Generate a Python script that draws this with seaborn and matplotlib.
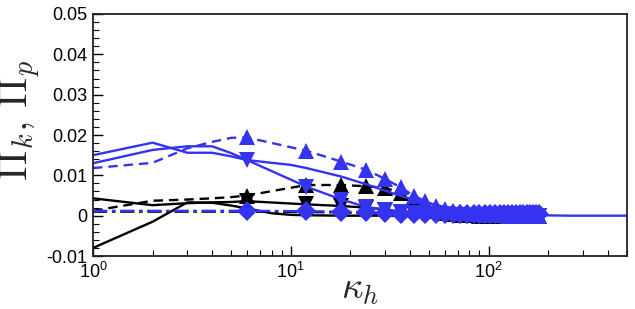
import math
import matplotlib
matplotlib.use("Agg")
import seaborn as sns
import matplotlib.pyplot as plt
from matplotlib.ticker import FixedLocator, FuncFormatter, LogLocator, MultipleLocator, NullFormatter

# --- DATA ---
# shared wavenumber grid for the series that carry markers (markers from k=6 on)
k_mark = [1, 2, 3, 4, 5,
          6, 12, 18, 24, 30, 36, 42, 48, 54, 60, 66, 72,
          78, 84, 90, 96, 102, 108, 114, 120, 126, 132, 138, 144, 150, 156, 162, 168, 174, 180]

blue_down = [0.0130, 0.0163, 0.0172, 0.0172, 0.0155,
             0.0138, 0.0072, 0.0040, 0.0022, 0.0015, 0.0010, 0.0007, 0.0005, 0.0003, 0.0002, 0.0001, 0.0001,
             0.0, 0.0, 0.0, 0.0, 0.0, 0.0, 0.0, 0.0, 0.0, 0.0, 0.0, 0.0, 0.0, 0.0, 0.0, 0.0, 0.0, 0.0]
blue_up = [0.0118, 0.0131, 0.0167, 0.0183, 0.0193,
           0.0194, 0.0161, 0.0134, 0.0114, 0.0091, 0.0070, 0.0049, 0.0036, 0.0025, 0.0016, 0.0011, 0.0008,
           0.0006, 0.0004, 0.0003, 0.0002, 0.0002, 0.0001, 0.0001, 0.0001, 0.0, 0.0, 0.0, 0.0, 0.0, 0.0, 0.0, 0.0, 0.0, 0.0]
black_up = [0.0012, 0.0037, 0.0040, 0.0043, 0.0046,
            0.0050, 0.0076, 0.0076, 0.0073, 0.0069, 0.0057, 0.0038, 0.0022, 0.0012, 0.0006, 0.0003, 0.0002,
            0.0001, 0.0001, 0.0, 0.0, 0.0, 0.0, 0.0, 0.0, 0.0, 0.0, 0.0, 0.0, 0.0, 0.0, 0.0, 0.0, 0.0, 0.0]
black_down = [0.0043, 0.0026, 0.0031, 0.0033, 0.0034,
              0.0036, 0.0028, 0.0024, 0.0020, 0.0015, 0.0010, 0.0006, 0.0004, 0.0002, 0.0001, 0.0001, 0.0,
              0.0, 0.0, 0.0, 0.0, 0.0, 0.0, 0.0, 0.0, 0.0, 0.0, 0.0, 0.0, 0.0, 0.0, 0.0, 0.0, 0.0, 0.0]
blue_diam = [0.0012, 0.0012, 0.0012, 0.0012, 0.0012,
             0.0012, 0.0011, 0.0010, 0.0008, 0.0006, 0.0005, 0.0004, 0.0004, 0.0004, 0.0004, 0.0004, 0.0004,
             0.0004, 0.0004, 0.0004, 0.0004, 0.0004, 0.0004, 0.0004, 0.0004, 0.0004, 0.0004, 0.0004, 0.0004,
             0.0004, 0.0004, 0.0004, 0.0004, 0.0004, 0.0004]
black_dd = [0.0010, 0.0010, 0.0010, 0.0010, 0.0010,
            0.0010, 0.0009, 0.0008, 0.0006, 0.0005, 0.0004, 0.0003, 0.0003, 0.0002, 0.0002, 0.0002, 0.0001,
            0.0001, 0.0001, 0.0001, 0.0001, 0.0, 0.0, 0.0, 0.0, 0.0, 0.0, 0.0, 0.0, 0.0, 0.0, 0.0, 0.0, 0.0, 0.0]

# plain blue line (runs out to k=500)
k_a = [1, 2, 3, 4, 5, 6, 8, 10, 12, 18, 24, 30, 36, 42, 48, 60, 72, 84, 100, 120, 150, 186, 250, 500]
blue_solid = [0.0150, 0.0181, 0.0156, 0.0156, 0.0147, 0.0138, 0.0131, 0.0126, 0.0118, 0.0097, 0.0078,
              0.0062, 0.0049, 0.0040, 0.0032, 0.0022, 0.0017, 0.0013, 0.0008, 0.0005, 0.0002, 0.0001, 0.0, 0.0]

# plain black line starting negative
k_f = [1, 2, 3, 4, 5, 6, 8, 10, 12, 18, 24, 36, 60, 100, 180]
black_solid = [-0.0080, -0.0015, 0.0033, 0.0032, 0.0025, 0.0018, 0.0006, 0.0002, 0.0001,
               0.0, 0.0, 0.0, 0.0, 0.0, 0.0]

BLUE = "#3333f0"

sns.set_theme(style="ticks")
plt.rcParams["font.family"] = ["Liberation Sans", "DejaVu Sans"]
plt.rcParams["mathtext.fontset"] = "cm"

fig = plt.figure(figsize=(6.35, 3.09), dpi=100)
ax = fig.add_axes([0.1465, 0.1715, 0.8405, 0.7832])

lw = 1.7
every = slice(5, None)
dashed = (0, (4, 2.5))
dashdot = (0, (6, 2, 1.5, 2))

# black curves first, blue on top
sns.lineplot(x=k_f, y=black_solid, color="black", lw=lw, ax=ax)
sns.lineplot(x=k_mark, y=black_dd, color="black", lw=lw, linestyle=dashdot, ax=ax)
sns.lineplot(x=k_mark, y=black_down, color="black", lw=lw, marker="v", markersize=11,
             markevery=every, markeredgewidth=0, ax=ax)
sns.lineplot(x=k_mark, y=black_up, color="black", lw=lw, linestyle=dashed, marker="^", markersize=11,
             markevery=every, markeredgewidth=0, ax=ax)

sns.lineplot(x=k_a, y=blue_solid, color=BLUE, lw=lw, ax=ax)
sns.lineplot(x=k_mark, y=blue_down, color=BLUE, lw=lw, marker="v", markersize=11,
             markevery=every, markeredgewidth=0, ax=ax)
sns.lineplot(x=k_mark, y=blue_up, color=BLUE, lw=lw, linestyle=dashed, marker="^", markersize=11,
             markevery=every, markeredgewidth=0, ax=ax)
sns.lineplot(x=k_mark, y=blue_diam, color=BLUE, lw=lw, linestyle=dashdot, marker="D", markersize=10,
             markevery=every, markeredgewidth=0, ax=ax)

# axes, ticks
ax.set_xscale("log")
ax.set_xlim(1, 500)
ax.set_ylim(-0.01, 0.05)
ax.yaxis.set_major_locator(MultipleLocator(0.01))
ax.yaxis.set_minor_locator(MultipleLocator(0.002))
ax.yaxis.set_major_formatter(FuncFormatter(lambda v, p: "%g" % round(v, 4)))
ax.xaxis.set_major_locator(FixedLocator([1, 10, 100]))
ax.xaxis.set_minor_locator(LogLocator(base=10, subs=range(2, 10)))
ax.xaxis.set_minor_formatter(NullFormatter())
ax.xaxis.set_major_formatter(FuncFormatter(lambda v, p: r"$\mathregular{10^{%d}}$" % round(math.log10(v))))
ax.tick_params(which="both", direction="in", top=False, right=False, colors="black", labelsize=13, pad=4)
ax.tick_params(which="major", length=7, width=1)
ax.tick_params(which="minor", length=4, width=0.8)
for s in ax.spines.values():
    s.set_color("#222222")
    s.set_linewidth(1.3)

ax.set_xlabel(r"$\kappa_h$", fontsize=27)
ax.set_ylabel(r"$\Pi_k,\,\Pi_p$", fontsize=29)
ax.yaxis.set_label_coords(-0.094, 0.56)
ax.xaxis.set_label_coords(0.5, -0.178)
ax.xaxis.label.set_va("baseline")

fig.savefig("out.png", dpi=100)
